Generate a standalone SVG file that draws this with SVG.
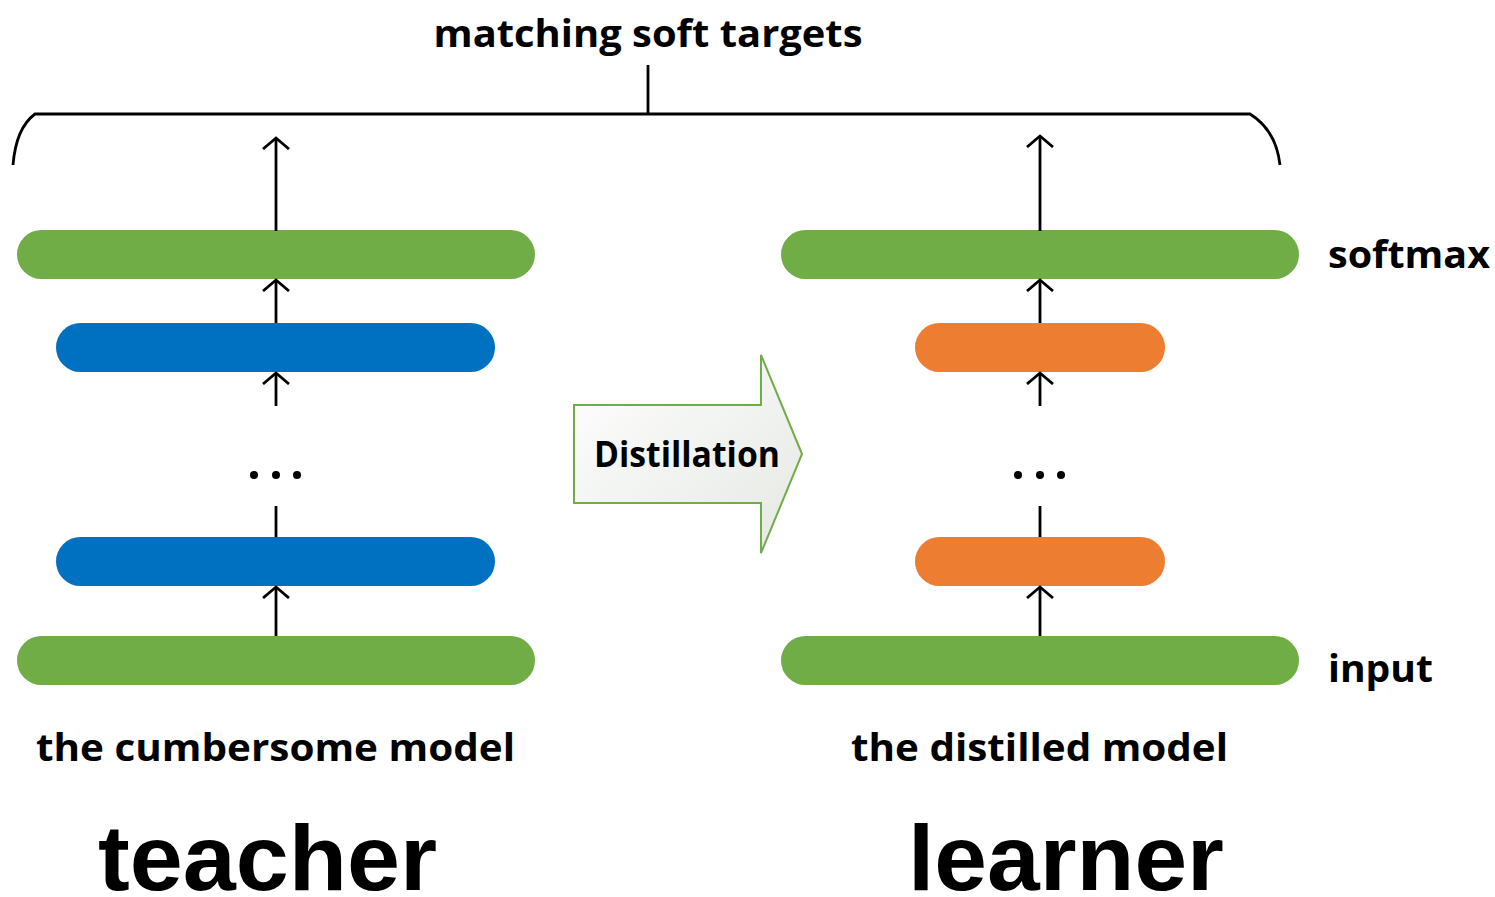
<svg xmlns="http://www.w3.org/2000/svg" width="1495" height="897" viewBox="0 0 1495 897">
  <defs>
    <style>
      .bar-green { fill: #70ad47; }
      .bar-blue { fill: #0070c0; }
      .bar-orange { fill: #ed7d31; }
      .wire { stroke: #000; stroke-width: 2.8; fill: none; }
      .label { font-family: "Open Sans", "Noto Sans", sans-serif; font-weight: bold; fill: #000; }
      .big { font-family: "Liberation Sans", Arial, sans-serif; font-weight: bold; fill: #000; }
    </style>
    <!-- open chevron head, pointing along the line direction -->
    <marker id="head" viewBox="0 0 20 28" refX="12" refY="14" markerWidth="20" markerHeight="28" markerUnits="userSpaceOnUse" orient="auto">
      <path d="M1 1 L12 14 L1 27" fill="none" stroke="#000" stroke-width="2.8"/>
    </marker>
    <linearGradient id="distFill" x1="0" y1="0" x2="1" y2="1">
      <stop offset="0" stop-color="#ffffff"/>
      <stop offset="1" stop-color="#e4e8e2"/>
    </linearGradient>
  </defs>

  <rect width="1495" height="897" fill="#ffffff"/>

  <!-- brace collecting both outputs -->
  <g id="brace">
    <path class="wire" d="M13 165 Q16 128 35 114 L1250 114 Q1276 130 1280 165"/>
    <line class="wire" x1="648" y1="65" x2="648" y2="114"/>
    <text class="label" x="648" y="47" font-size="38" text-anchor="middle" textLength="429" lengthAdjust="spacingAndGlyphs">matching soft targets</text>
  </g>

  <!-- teacher stack -->
  <g id="teacher-softmax"><rect class="bar-green" x="17" y="230" width="518" height="49" rx="24.5"/></g>
  <g id="teacher-hidden-top"><rect class="bar-blue" x="56" y="323" width="439" height="49" rx="24.5"/></g>
  <g id="teacher-dots">
    <circle cx="254" cy="475" r="4"/><circle cx="276" cy="475" r="4"/><circle cx="297" cy="475" r="4"/>
  </g>
  <g id="teacher-hidden-bottom"><rect class="bar-blue" x="56" y="537" width="439" height="49" rx="24.5"/></g>
  <g id="teacher-input"><rect class="bar-green" x="17" y="636" width="518" height="49" rx="24.5"/></g>

  <!-- learner stack -->
  <g id="learner-softmax"><rect class="bar-green" x="781" y="230" width="518" height="49" rx="24.5"/></g>
  <g id="learner-hidden-top"><rect class="bar-orange" x="915" y="323" width="250" height="49" rx="24.5"/></g>
  <g id="learner-dots">
    <circle cx="1018" cy="475" r="4"/><circle cx="1040" cy="475" r="4"/><circle cx="1061" cy="475" r="4"/>
  </g>
  <g id="learner-hidden-bottom"><rect class="bar-orange" x="915" y="537" width="250" height="49" rx="24.5"/></g>
  <g id="learner-input"><rect class="bar-green" x="781" y="636" width="518" height="49" rx="24.5"/></g>

  <!-- distillation arrow -->
  <g id="distillation">
    <path d="M574 405 L761 405 L761 355 L802 454 L761 553 L761 503 L574 503 Z" fill="url(#distFill)" stroke="#70ad47" stroke-width="2"/>
    <text class="label" x="687" y="467" font-size="35" text-anchor="middle" textLength="186" lengthAdjust="spacingAndGlyphs">Distillation</text>
  </g>

  <!-- connectors -->
  <g id="connectors">
    <line class="wire" x1="276" y1="231" x2="276" y2="138" marker-end="url(#head)"/>
    <line class="wire" x1="276" y1="323" x2="276" y2="280" marker-end="url(#head)"/>
    <line class="wire" x1="276" y1="406" x2="276" y2="373" marker-end="url(#head)"/>
    <line class="wire" x1="276" y1="506" x2="276" y2="537"/>
    <line class="wire" x1="276" y1="636" x2="276" y2="587" marker-end="url(#head)"/>

    <line class="wire" x1="1040" y1="231" x2="1040" y2="136" marker-end="url(#head)"/>
    <line class="wire" x1="1040" y1="323" x2="1040" y2="280" marker-end="url(#head)"/>
    <line class="wire" x1="1040" y1="406" x2="1040" y2="373" marker-end="url(#head)"/>
    <line class="wire" x1="1040" y1="506" x2="1040" y2="537"/>
    <line class="wire" x1="1040" y1="636" x2="1040" y2="587" marker-end="url(#head)"/>
  </g>

  <!-- labels -->
  <g id="labels">
    <text class="label" x="1328" y="268" font-size="38" textLength="162" lengthAdjust="spacingAndGlyphs">softmax</text>
    <text class="label" x="1328" y="682" font-size="38" textLength="105" lengthAdjust="spacingAndGlyphs">input</text>
    <text class="label" x="36" y="761" font-size="38" textLength="479" lengthAdjust="spacingAndGlyphs">the cumbersome model</text>
    <text class="label" x="851" y="761" font-size="38" textLength="377" lengthAdjust="spacingAndGlyphs">the distilled model</text>
    <text class="big" x="98" y="890" font-size="92" textLength="339" lengthAdjust="spacingAndGlyphs">teacher</text>
    <text class="big" x="908" y="890" font-size="92" textLength="316" lengthAdjust="spacingAndGlyphs">learner</text>
  </g>
</svg>
